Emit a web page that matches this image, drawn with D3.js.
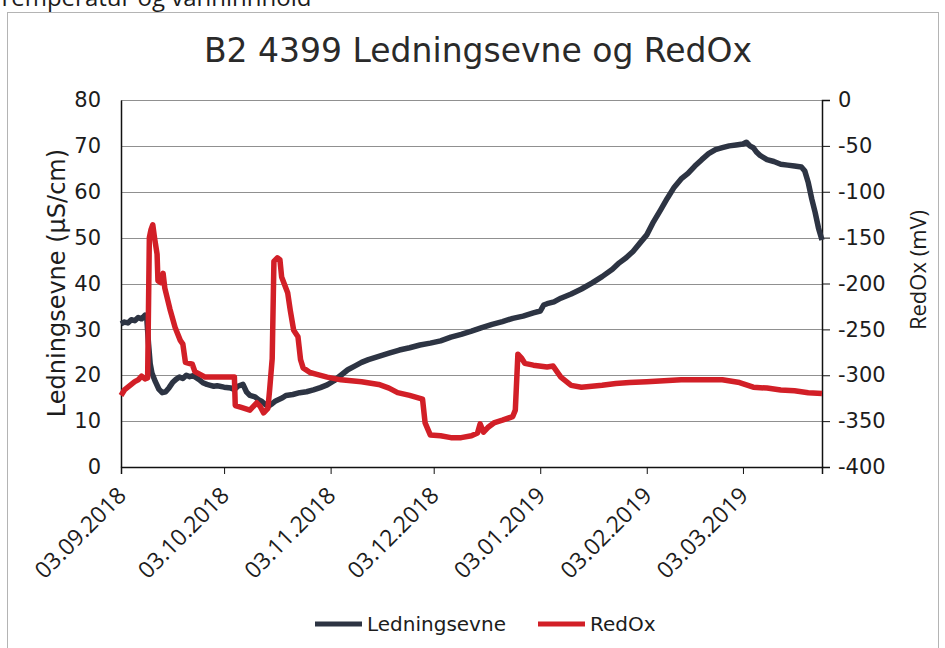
<!DOCTYPE html>
<html>
<head>
<meta charset="utf-8">
<script src="https://cdn.jsdelivr.net/npm/d3@7"></script>
<style>
  body { margin: 0; background: #fff; }
  svg text { fill: #1c1c1c; }
</style>
</head>
<body>
<div id="graph"></div>
<script>
// B2 4399 - Ledningsevne (left axis) og RedOx (right axis)

// Ledningsevne readings (µS/cm)
const ledDates = [
  '03.09.2018', '04.09.2018', '05.09.2018', '06.09.2018', '07.09.2018', '08.09.2018',
  '09.09.2018', '10.09.2018', '10.09.2018 12:00', '11.09.2018', '11.09.2018 12:00',
  '12.09.2018', '13.09.2018', '14.09.2018', '15.09.2018', '16.09.2018', '17.09.2018',
  '18.09.2018', '19.09.2018', '20.09.2018', '21.09.2018', '22.09.2018', '23.09.2018',
  '24.09.2018', '25.09.2018', '26.09.2018', '27.09.2018', '28.09.2018', '29.09.2018',
  '30.09.2018', '01.10.2018', '03.10.2018', '05.10.2018', '06.10.2018', '07.10.2018',
  '08.10.2018 12:00', '09.10.2018 12:00', '10.10.2018 12:00', '12.10.2018', '13.10.2018',
  '14.10.2018', '15.10.2018', '16.10.2018', '17.10.2018', '18.10.2018', '20.10.2018',
  '21.10.2018', '23.10.2018', '25.10.2018', '27.10.2018', '29.10.2018', '31.10.2018',
  '02.11.2018', '04.11.2018', '06.11.2018', '08.11.2018', '10.11.2018', '12.11.2018',
  '14.11.2018', '17.11.2018', '20.11.2018', '23.11.2018', '26.11.2018', '29.11.2018',
  '02.12.2018', '05.12.2018', '08.12.2018', '11.12.2018', '14.12.2018', '17.12.2018',
  '20.12.2018', '23.12.2018', '26.12.2018', '29.12.2018', '01.01.2019', '03.01.2019',
  '04.01.2019', '05.01.2019', '07.01.2019', '09.01.2019', '12.01.2019', '15.01.2019',
  '18.01.2019', '21.01.2019', '24.01.2019', '26.01.2019', '28.01.2019', '30.01.2019',
  '01.02.2019', '03.02.2019', '05.02.2019', '07.02.2019', '09.02.2019', '11.02.2019',
  '13.02.2019', '15.02.2019', '17.02.2019', '19.02.2019', '21.02.2019', '23.02.2019',
  '25.02.2019', '27.02.2019', '01.03.2019', '03.03.2019', '04.03.2019', '05.03.2019',
  '06.03.2019', '07.03.2019', '08.03.2019', '10.03.2019', '12.03.2019', '14.03.2019',
  '16.03.2019', '18.03.2019', '20.03.2019', '21.03.2019', '22.03.2019', '23.03.2019',
  '24.03.2019', '25.03.2019', '26.03.2019'
];
const ledValues = [
  31.2, 31.6, 31.4, 32.1, 31.9, 32.6,
  32.3, 33.1, 32.4, 27.0, 22.5,
  20.5, 18.6, 17.0, 16.2, 16.4, 17.3,
  18.4, 19.1, 19.6, 19.3, 20.0, 19.7,
  19.9, 19.4, 18.9, 18.3, 18.0, 17.8,
  17.6, 17.7, 17.4, 17.2, 16.9, 17.6,
  18.0, 16.4, 15.6, 15.3, 14.7,
  14.3, 13.6, 13.3, 13.8, 14.4, 15.1,
  15.6, 15.8, 16.2, 16.4, 16.8, 17.3,
  17.9, 18.8, 20.0, 21.2, 22.0, 22.8,
  23.4, 24.1, 24.8, 25.5, 26.0, 26.6,
  27.0, 27.5, 28.3, 28.9, 29.6, 30.4,
  31.1, 31.7, 32.4, 32.9, 33.6, 34.0,
  35.3, 35.6, 36.0, 36.8, 37.7, 38.8,
  40.1, 41.5, 43.1, 44.5, 45.6, 47.0,
  48.8, 50.6, 53.5, 56.0, 58.6, 61.0,
  62.8, 64.0, 65.6, 67.0, 68.3, 69.2,
  69.6, 70.0, 70.2, 70.4, 70.8, 70.0,
  69.6, 68.6, 67.9, 67.0, 66.6, 66.0,
  65.8, 65.6, 65.4, 64.5, 62.0, 58.5,
  55.5, 52.0, 49.5
];

// RedOx readings (mV)
const redoxDates = [
  '03.09.2018', '04.09.2018', '05.09.2018', '06.09.2018', '07.09.2018', '08.09.2018',
  '09.09.2018', '10.09.2018', '10.09.2018 18:00', '11.09.2018 06:00', '11.09.2018 18:00',
  '12.09.2018 06:00', '12.09.2018 18:00', '13.09.2018 12:00', '13.09.2018 18:00',
  '14.09.2018 12:00', '15.09.2018 06:00', '15.09.2018 18:00', '17.09.2018 06:00',
  '18.09.2018 18:00', '20.09.2018 06:00', '21.09.2018', '21.09.2018 18:00',
  '23.09.2018 18:00', '24.09.2018 12:00', '26.09.2018', '27.09.2018 12:00', '01.10.2018',
  '06.10.2018', '06.10.2018 06:00', '08.10.2018', '10.10.2018 12:00', '12.10.2018 12:00',
  '13.10.2018 12:00', '14.10.2018 12:00', '15.10.2018 18:00', '16.10.2018 06:00',
  '17.10.2018', '17.10.2018 12:00', '18.10.2018 12:00', '19.10.2018 06:00',
  '19.10.2018 18:00', '21.10.2018 12:00', '22.10.2018 06:00', '23.10.2018 06:00',
  '24.10.2018 12:00', '25.10.2018 06:00', '26.10.2018', '28.10.2018', '30.10.2018',
  '02.11.2018', '06.11.2018', '12.11.2018', '17.11.2018', '20.11.2018', '22.11.2018 12:00',
  '26.11.2018', '29.11.2018 18:00', '30.11.2018 12:00', '02.12.2018', '05.12.2018',
  '08.12.2018', '11.12.2018', '14.12.2018', '15.12.2018 18:00', '16.12.2018 12:00',
  '17.12.2018 12:00', '18.12.2018 18:00', '20.12.2018 12:00', '23.12.2018', '26.12.2018',
  '26.12.2018 18:00', '27.12.2018 12:00', '28.12.2018 12:00', '29.12.2018 12:00',
  '01.01.2019', '05.01.2019', '06.01.2019 18:00', '09.01.2019', '12.01.2019', '15.01.2019',
  '18.01.2019', '21.01.2019', '25.01.2019', '29.01.2019', '03.02.2019', '08.02.2019',
  '13.02.2019', '19.02.2019', '25.02.2019', '02.03.2019', '06.03.2019', '10.03.2019',
  '14.03.2019', '18.03.2019', '22.03.2019', '26.03.2019'
];
const redoxValues = [
  -322, -316, -313, -310, -307, -305,
  -301, -304, -303, -150, -141,
  -136, -150, -168, -197,
  -199, -189, -205, -228,
  -248, -262, -266, -286,
  -288, -296, -299, -302, -302,
  -302, -333, -335, -338, -330,
  -334, -341, -336, -316,
  -282, -176, -172, -174,
  -193, -210, -229, -251,
  -258, -283, -292, -297, -299,
  -302, -305, -307, -310, -314, -319,
  -322, -326, -352, -365, -366,
  -368, -368, -366, -363, -353,
  -362, -357, -352, -349, -345,
  -338, -277, -281, -287,
  -289, -291, -290, -302, -311, -313,
  -312, -311, -309, -308, -307, -306,
  -305, -305, -305, -308, -313, -314,
  -316, -317, -319, -320
];

// Axis ticks
const monthTicks = [
  '03.09.2018', '03.10.2018', '03.11.2018', '03.12.2018',
  '03.01.2019', '03.02.2019', '03.03.2019'
];
const leftTicks = [0, 10, 20, 30, 40, 50, 60, 70, 80];
const rightTicks = [-400, -350, -300, -250, -200, -150, -100, -50, 0];
const dateRange = ['03.09.2018', '26.03.2019'];

const parseFull = d3.timeParse('%d.%m.%Y %H:%M');
const parseDay = d3.timeParse('%d.%m.%Y');
function parseDate(s) {
  return parseFull(s) || parseDay(s);
}

drawChart();

function drawChart() {
  const width = 945;
  const height = 648;

  // plot area
  const left = 121, right = 822, top = 100, bottom = 467;

  const svg = d3.select('#graph')
      .append('svg')
      .attr('width', width)
      .attr('height', height);

  // header text cut off by the page above (as in the scan)
  svg.append('text')
      .attr('x', -2)
      .attr('y', 6)
      .style('font-family', '"Open Sans", sans-serif')
      .style('font-size', '24px')
      .text('Temperatur og vanninnhold');

  // chart frame
  svg.append('rect')
      .attr('x', 7.5)
      .attr('y', 12.5)
      .attr('width', 931)
      .attr('height', 660)
      .attr('fill', 'none')
      .attr('stroke', '#b4b4b4');

  const x = d3.scaleTime()
      .domain(dateRange.map(parseDate))
      .range([left, right]);
  const yLeft = d3.scaleLinear().domain([0, 80]).range([bottom, top]);
  const yRight = d3.scaleLinear().domain([-400, 0]).range([bottom, top]);

  // gridlines
  svg.append('g')
      .selectAll('line')
      .data(leftTicks)
      .enter()
      .append('line')
      .attr('x1', left)
      .attr('x2', right)
      .attr('y1', d => Math.round(yLeft(d)) + 0.5)
      .attr('y2', d => Math.round(yLeft(d)) + 0.5)
      .attr('stroke', '#909090')
      .attr('stroke-width', 1);

  // title
  svg.append('text')
      .attr('x', 478)
      .attr('y', 62)
      .attr('text-anchor', 'middle')
      .style('font-family', '"DejaVu Sans", Verdana, sans-serif')
      .style('font-size', '33px')
      .style('fill', '#2a2a2a')
      .text('B2 4399 Ledningsevne og RedOx');

  // left axis
  const gLeft = svg.append('g')
      .attr('transform', `translate(${left},0)`)
      .call(d3.axisLeft(yLeft).tickValues(leftTicks).tickSize(0).tickPadding(20));
  gLeft.select('.domain').attr('stroke', '#111').attr('stroke-width', 1.5);
  gLeft.selectAll('text')
      .style('font-family', '"DejaVu Sans", Verdana, sans-serif')
      .style('font-size', '21px');

  // right axis (plain hyphen as minus sign)
  const gRight = svg.append('g')
      .attr('transform', `translate(${right},0)`)
      .call(d3.axisRight(yRight)
          .tickValues(rightTicks)
          .tickFormat(d => String(d))
          .tickSizeOuter(0)
          .tickSize(8)
          .tickPadding(8));
  gRight.select('.domain').attr('stroke', '#111').attr('stroke-width', 1.5);
  gRight.selectAll('.tick line').attr('stroke', '#111');
  gRight.selectAll('text')
      .style('font-family', '"DejaVu Sans", Verdana, sans-serif')
      .style('font-size', '21px');

  // bottom axis
  const gBottom = svg.append('g')
      .attr('transform', `translate(0,${bottom})`)
      .call(d3.axisBottom(x)
          .tickValues(monthTicks.map(parseDate))
          .tickFormat(d3.timeFormat('%d.%m.%Y'))
          .tickSizeOuter(0)
          .tickSize(7));
  gBottom.select('.domain').attr('stroke', '#111').attr('stroke-width', 1.5);
  gBottom.selectAll('.tick line').attr('stroke', '#111');
  gBottom.selectAll('text')
      .attr('y', 0)
      .attr('dy', 0)
      .attr('transform', 'translate(6,30) rotate(-45)')
      .attr('text-anchor', 'end')
      .style('font-family', '"Open Sans", sans-serif')
      .style('font-size', '23px');

  // axis titles
  svg.append('text')
      .attr('transform', 'translate(65,283) rotate(-90)')
      .attr('text-anchor', 'middle')
      .style('font-family', '"DejaVu Sans", Verdana, sans-serif')
      .style('font-size', '24px')
      .text('Ledningsevne (µS/cm)');

  svg.append('text')
      .attr('transform', 'translate(926,270) rotate(-90)')
      .attr('text-anchor', 'middle')
      .style('font-family', '"Open Sans", sans-serif')
      .style('font-size', '22px')
      .text('RedOx (mV)');

  // series
  const ledData = ledDates.map((d, i) => ({date: parseDate(d), value: ledValues[i]}));
  const redoxData = redoxDates.map((d, i) => ({date: parseDate(d), value: redoxValues[i]}));

  const ledLine = d3.line()
      .x(d => x(d.date))
      .y(d => yLeft(d.value));
  const redoxLine = d3.line()
      .x(d => x(d.date))
      .y(d => yRight(d.value));

  svg.append('path')
      .datum(ledData)
      .attr('d', ledLine)
      .attr('fill', 'none')
      .attr('stroke', '#2d3443')
      .attr('stroke-width', 5.5)
      .attr('stroke-linejoin', 'round');

  svg.append('path')
      .datum(redoxData)
      .attr('d', redoxLine)
      .attr('fill', 'none')
      .attr('stroke', '#d21f27')
      .attr('stroke-width', 5.5)
      .attr('stroke-linejoin', 'round');

  // legend
  const legendItems = [
    {name: 'Ledningsevne', color: '#2d3443', x: 315},
    {name: 'RedOx', color: '#d21f27', x: 538}
  ];
  const legend = svg.append('g');
  legendItems.forEach(item => {
    legend.append('line')
        .attr('x1', item.x)
        .attr('x2', item.x + 47)
        .attr('y1', 624)
        .attr('y2', 624)
        .attr('stroke', item.color)
        .attr('stroke-width', 5);
    legend.append('text')
        .attr('x', item.x + 52)
        .attr('y', 631)
        .style('font-family', '"DejaVu Sans", Verdana, sans-serif')
        .style('font-size', '20px')
        .text(item.name);
  });
}
</script>
</body>
</html>
